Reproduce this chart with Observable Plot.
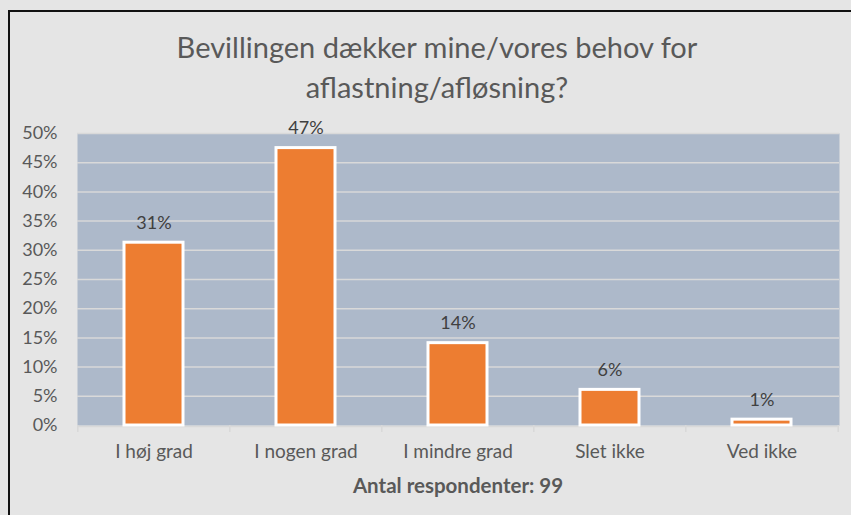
<!DOCTYPE html>
<html>
<head>
<meta charset="utf-8">
<script src="https://cdn.jsdelivr.net/npm/d3@7"></script>
<script src="https://cdn.jsdelivr.net/npm/@observablehq/plot@0.6"></script>
<style>
  html, body { margin: 0; padding: 0; background: #e5e5e5; }
  #wrap { position: relative; width: 851px; height: 515px; background: #e5e5e5; overflow: hidden; font-family: Lato, "Open Sans", sans-serif; color: #595959; }
  #border { position: absolute; left: 8px; top: 10px; width: 900px; height: 600px; border: 2px solid #111; box-sizing: border-box; }
  #title { position: absolute; left: 0; width: 874px; top: 27px; text-align: center; font-size: 29px; line-height: 40px; color: #595959; }
  #xlabel { position: absolute; left: 0; width: 916px; top: 473px; text-align: center; font-size: 20.5px; font-weight: bold; color: #595959; }
  #chart { position: absolute; left: 0; top: 0; }
</style>
</head>
<body>
<div id="wrap">
  <div id="border"></div>
  <div id="chart"></div>
  <div id="title">Bevillingen dækker mine/vores behov for<br>aflastning/afløsning?</div>
  <div id="xlabel">Antal respondenter: 99</div>
</div>
<script>
const categories = ["I høj grad", "I nogen grad", "I mindre grad", "Slet ikke", "Ved ikke"];
const values = [0.313, 0.475, 0.141, 0.061, 0.010];
const valueLabels = ["31%", "47%", "14%", "6%", "1%"];
const yTicks = [0, 0.05, 0.10, 0.15, 0.20, 0.25, 0.30, 0.35, 0.40, 0.45, 0.50];

const data = categories.map((c, i) => ({cat: c, v: values[i], label: valueLabels[i]}));

const W = 851, H = 515;
const mL = 77, mR = 12, mT = 133, mB = 90;
const step = (W - mL - mR) / categories.length;

const plot = Plot.plot({
  width: W,
  height: H,
  marginLeft: mL,
  marginRight: mR,
  marginTop: mT,
  marginBottom: mB,
  style: {background: "transparent", fontFamily: "Lato, 'Open Sans', sans-serif", color: "#595959"},
  x: {domain: categories, paddingInner: 0.61, paddingOuter: 0.305, label: null},
  y: {domain: [0, 0.5], label: null},
  marks: [
    Plot.frame({fill: "#adb9ca", stroke: null}),
    Plot.ruleY(yTicks.slice(1), {stroke: "#d9d9d9", strokeWidth: 1.5}),
    Plot.ruleY([0], {stroke: "#d9d9d9", strokeWidth: 1.5, dy: 1}),
    Plot.ruleX(categories, {x: d => d, dx: -step / 2, y1: 0, y2: 0, insetBottom: -7, insetTop: 0, stroke: "#d9d9d9", strokeWidth: 1.5}),
    Plot.ruleX(categories.slice(-1), {x: d => d, dx: step / 2, y1: 0, y2: 0, insetBottom: -7, insetTop: 0, stroke: "#d9d9d9", strokeWidth: 1.5}),
    Plot.barY(data, {x: "cat", y: "v", fill: "#ed7d31", stroke: "white", strokeWidth: 3}),
    Plot.text(data, {x: "cat", y: "v", text: "label", lineAnchor: "bottom", dy: -14, fontSize: 18, fill: "#404040"}),
    Plot.axisY({ticks: yTicks, tickFormat: d3.format(".0%"), tickSize: 0, tickPadding: 20, fontSize: 18, fill: "#595959"}),
    Plot.axisX({tickSize: 0, tickPadding: 19, fontSize: 19, fill: "#595959", label: null})
  ]
});
document.getElementById("chart").appendChild(plot);
</script>
</body>
</html>
